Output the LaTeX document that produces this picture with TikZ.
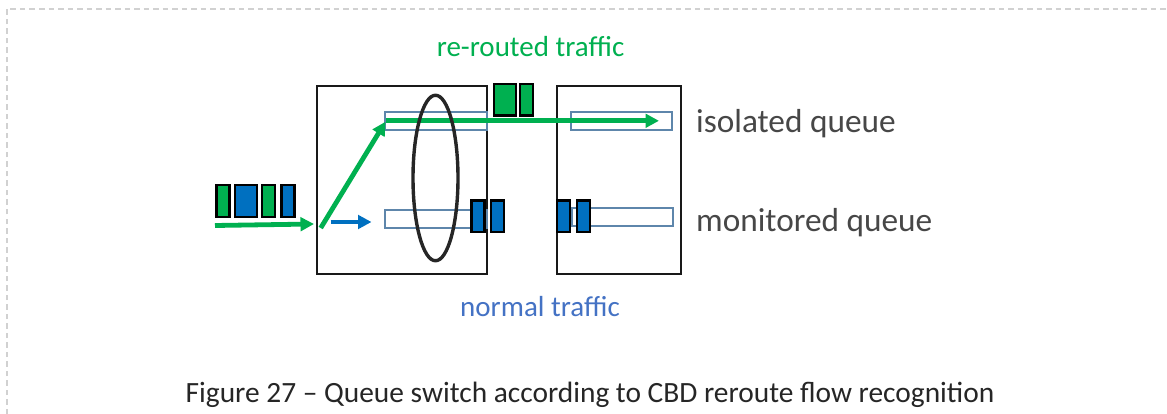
\documentclass[tikz,border=0pt]{standalone}
\usepackage{fontspec}
\setmainfont{Carlito}
\usetikzlibrary{arrows.meta,shapes.geometric}
\definecolor{pgreen}{HTML}{00B050}
\definecolor{pblue}{HTML}{0070C0}
\definecolor{qblue}{HTML}{41719C}
\definecolor{tblue}{HTML}{4472C4}
\tikzset{
  switchbox/.style={draw=black!90,line width=2.2pt,fill=none,inner sep=0pt,minimum width=#1,minimum height=188pt},
  queuebox/.style={draw=qblue!85,line width=2pt,fill=white,inner sep=0pt,minimum width=#1,minimum height=18pt},
  gpkt/.style={draw=black,line width=2.2pt,fill=pgreen,inner sep=0pt,minimum width=#1,minimum height=31.5pt},
  bpkt/.style={draw=black,line width=2.2pt,fill=pblue,inner sep=0pt,minimum width=#1,minimum height=31.5pt},
  garrow/.style={draw=pgreen,line width=4.8pt,-{Triangle[length=13.5pt,width=13.5pt]}},
  barrow/.style={draw=pblue,line width=4.8pt,-{Triangle[length=13.5pt,width=13.5pt]}},
  label/.style={inner sep=0pt,anchor=base},
}
\begin{document}
\begin{tikzpicture}[x=1pt,y=-1pt]
\useasboundingbox (0,0) rectangle (1167,414);
\fill[white] (0,0) rectangle (1167,414);
% dashed frame
\coordinate (fa) at (7,414);
\coordinate (fb) at (7,9);
\coordinate (fc) at (1167,9);
\draw[black!18,line width=1.5pt,dash pattern=on 5.5pt off 4pt] (fa) -- (fb) -- (fc);
% switches
\node[switchbox=170pt] (sw1) at (401.7,180) {};
\node[switchbox=124pt] (sw2) at (618.7,180) {};
% queues
\node[queuebox=102pt] (q1) at (436,120.8) {};
\node[queuebox=102pt] (q2) at (436,219) {};
\node[queuebox=101pt] (q3) at (621.5,120.8) {};
\node[queuebox=100.5pt] (q4) at (622.7,217.5) {};
% input packets
\node[gpkt=13pt] (p1) at (223,201) {};
\node[bpkt=22pt] (p2) at (246.3,201) {};
\node[gpkt=13pt] (p3) at (268.7,201) {};
\node[bpkt=13pt] (p4) at (288,201) {};
% rerouted packets
\node[gpkt=22pt] (p5) at (505,99.7) {};
\node[gpkt=13pt] (p6) at (526.8,99.7) {};
% arrows
\coordinate (i0) at (215,225.5);
\coordinate (i1) at (314,224);
\coordinate (u0) at (320.7,228);
\coordinate (u1) at (385.5,121.7);
\coordinate (t0) at (385.5,120.8);
\coordinate (t1) at (659,120.8);
\coordinate (b0) at (330.7,222);
\coordinate (b1) at (371.5,222);
\draw[garrow] (i0) -- (i1);
\draw[garrow] (u0) -- (u1);
\draw[garrow] (t0) -- (t1);
\draw[barrow] (b0) -- (b1);
% ellipse
\node[ellipse,draw=black!85,line width=3.4pt,minimum width=45pt,minimum height=165.5pt,inner sep=0pt] (el) at (435.5,178) {};
% normal packets
\node[bpkt=13pt] (p7) at (478,216.3) {};
\node[bpkt=13pt] (p8) at (497.5,216.3) {};
\node[bpkt=13pt] (p9) at (563.8,216.3) {};
\node[bpkt=13pt] (p10) at (583.3,216.3) {};
% labels
\node[label,text=pgreen,font=\fontsize{29}{33}\selectfont] (l1) at (530.5,57) {re-routed traffic};
\node[label,text=tblue,font=\fontsize{29}{33}\selectfont] (l2) at (540,316) {normal traffic};
\node[label,text=black!72,anchor=base west,font=\fontsize{33.3}{37}\selectfont] (l3) at (696,133) {isolated queue};
\node[label,text=black!72,anchor=base west,font=\fontsize{33.3}{37}\selectfont] (l4) at (696,231) {monitored queue};
\node[label,text=black!85,font=\fontsize{29.4}{33}\selectfont] (l5) at (590,402) {Figure 27 – Queue switch according to CBD reroute flow recognition};
\end{tikzpicture}
\end{document}
